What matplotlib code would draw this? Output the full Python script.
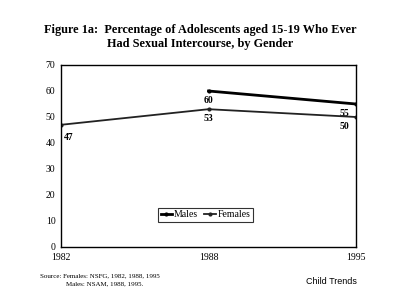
import matplotlib.pyplot as plt

# Data
years = ['1982', '1988', '1995']
females = [47, 53, 50]
males_years = ['1988', '1995']
males = [60, 55]

plt.rcParams['font.family'] = 'Liberation Serif'

fig = plt.figure(figsize=(4, 3.08), dpi=100)
ax = fig.add_axes([61 / 400, 1 - 247 / 308, 295 / 400, 182 / 308])

xf = [years.index(y) for y in years]
xm = [years.index(y) for y in males_years]

ax.plot(xm, males, color='black', lw=2.0, marker='o', ms=2, label='Males')
ax.plot(xf, females, color='#222222', lw=1.3, marker='o', ms=2, label='Females')

# Data labels
ax.annotate(str(females[0]), (xf[0], females[0]), xytext=(2, -9), textcoords='offset points',
            fontsize=7, fontweight='bold', ha='left', va='center')
ax.annotate(str(females[1]), (xf[1], females[1]), xytext=(0, -7), textcoords='offset points',
            fontsize=7, fontweight='bold', ha='center', va='center')
ax.annotate(str(females[2]), (xf[2], females[2]), xytext=(-8, -6.5), textcoords='offset points',
            fontsize=7, fontweight='bold', ha='center', va='center')
ax.annotate(str(males[0]), (xm[0], males[0]), xytext=(0, -6.5), textcoords='offset points',
            fontsize=7, fontweight='bold', ha='center', va='center')
ax.annotate(str(males[1]), (xm[1], males[1]), xytext=(-8, -7), textcoords='offset points',
            fontsize=7, fontweight='bold', ha='center', va='center')

ax.set_xlim(0, 2)
ax.set_ylim(0, 70)
ax.set_xticks(range(len(years)))
ax.set_xticklabels(years)
ax.set_yticks(range(0, 71, 10))
ax.tick_params(labelsize=7, length=0, pad=4)
for s in ax.spines.values():
    s.set_linewidth(1.0)

leg = ax.legend(loc='center', bbox_to_anchor=(0.49, 0.176), ncol=2, fontsize=7,
                frameon=True, fancybox=False, edgecolor='black', handlelength=1.2,
                handletextpad=0.2, columnspacing=0.6, borderpad=0.3)
leg.get_frame().set_linewidth(0.8)

fig.text(0.5, 1 - 30 / 308, 'Figure 1a:  Percentage of Adolescents aged 15-19 Who Ever',
         ha='center', va='center', fontsize=8.8, fontweight='bold')
fig.text(0.5, 1 - 44 / 308, 'Had Sexual Intercourse, by Gender',
         ha='center', va='center', fontsize=8.8, fontweight='bold')

fig.text(40 / 400, 1 - 276 / 308, 'Source: Females: NSFG, 1982, 1988, 1995',
         ha='left', va='center', fontsize=5)
fig.text(66 / 400, 1 - 284 / 308, 'Males: NSAM, 1988, 1995.',
         ha='left', va='center', fontsize=5)
fig.text(306 / 400, 1 - 281 / 308, 'Child Trends', family='Liberation Sans',
         ha='left', va='center', fontsize=6.5)

plt.savefig('out.png', dpi=100)
